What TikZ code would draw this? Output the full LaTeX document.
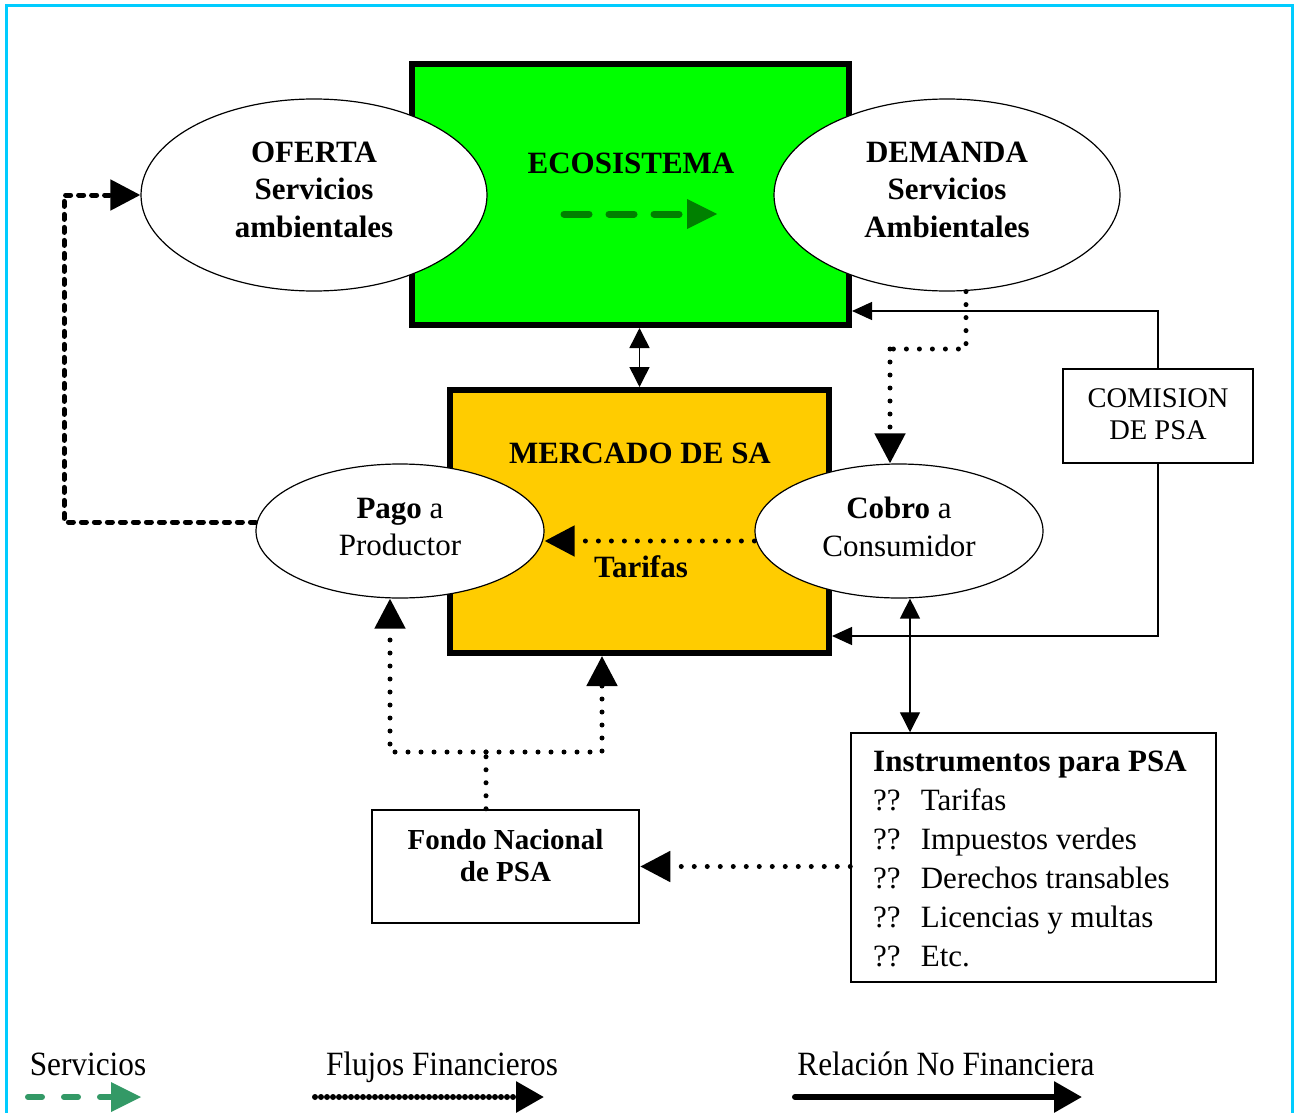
\documentclass[tikz,border=0pt]{standalone}
\usepackage{fontspec}
\setmainfont{Liberation Serif}
\usetikzlibrary{arrows.meta,shapes.geometric}
\definecolor{frame}{RGB}{0,204,255}
\definecolor{ecogreen}{RGB}{0,255,0}
\definecolor{mercy}{RGB}{255,204,0}
\definecolor{darkg}{RGB}{0,128,0}
\definecolor{legg}{RGB}{51,153,102}
\tikzset{
  txt/.style={font=\fontsize{31}{37.5}\selectfont, align=center, inner sep=0pt},
  btxt/.style={txt, font=\fontsize{31}{37.5}\selectfont\bfseries},
  legtxt/.style={inner sep=0pt, anchor=base, font=\fontsize{34}{40}\selectfont, xscale=0.92},
  bigbox/.style={draw, line width=6pt, inner sep=0pt},
  oval/.style={draw, ellipse, fill=white, line width=1.2pt, inner sep=0pt},
  smallbox/.style={draw, line width=2.5pt, fill=white, inner sep=0pt},
  fin/.style={line width=5pt, dash pattern=on 0pt off 13pt, line cap=round},
  finarrow/.style={fin, -{Triangle[length=30pt,width=30pt]}},
  loan/.style={line width=5pt, dash pattern=on 5pt off 8pt, line cap=round, -{Triangle[length=30pt,width=30pt]}},
  rel/.style={line width=1.3pt, -{Triangle[length=20pt,width=18pt]}},
  relboth/.style={line width=1.5pt, {Triangle[length=20pt,width=20pt]}-{Triangle[length=20pt,width=20pt]}},
}
\begin{document}
\begin{tikzpicture}[x=1pt,y=-1pt]
\useasboundingbox (0,0) rectangle (1298,1113);
\fill[white] (0,0) rectangle (1298,1113);
% outer frame
\draw[frame, line width=3pt] (6,1120) -- (6,6) -- (1292,6) -- (1292,1120);

% big boxes
\node[bigbox, fill=ecogreen, minimum width=437pt, minimum height=261pt] (eco) at (630.5,194.5) {};
\node[bigbox, fill=mercy, minimum width=379pt, minimum height=263pt] (mer) at (639.5,521.5) {};
\node[btxt] (ecot) at (631,163) {ECOSISTEMA};
\node[btxt] (mert) at (640,453) {MERCADO DE SA};

% green service arrow in ecosystem
\coordinate (gs) at (564,214);
\coordinate (ge) at (717,214);
\draw[darkg, line width=7pt, dash pattern=on 25pt off 20pt, line cap=round] (gs) -- ([xshift=-30pt]ge);
\fill[darkg] (ge) -- ++(-30,-15) -- ++(0,30) -- cycle;

% ovals
\node[oval, minimum width=346pt, minimum height=192pt] (oferta) at (314,195) {};
\node[oval, minimum width=346pt, minimum height=192pt] (demanda) at (947,195) {};
\node[oval, minimum width=288pt, minimum height=134pt] (pago) at (400,531) {};
\node[oval, minimum width=288pt, minimum height=134pt] (cobro) at (899,531) {};
\node[btxt] (ofertat) at (314,189.5) {OFERTA\\Servicios\\ambientales};
\node[btxt] (demandat) at (947,189.5) {DEMANDA\\Servicios\\Ambientales};
\node[txt] (pagot) at (400,527) {\textbf{Pago} a\\Productor};
\node[txt] (cobrot) at (899,527) {\textbf{Cobro} a\\Consumidor};

\node[btxt] (tarifas) at (641,567) {Tarifas};

% other boxes
\node[smallbox, minimum width=190pt, minimum height=94pt] (com) at (1158,416) {};
\node[txt, font=\fontsize{28.5}{32}\selectfont] (comt) at (1158,414) {COMISION\\DE PSA};
\node[smallbox, line width=1.5pt, minimum width=365pt, minimum height=249pt] (inst) at (1033.5,857.5) {};
\node[txt, align=left, anchor=north west, font=\fontsize{31}{39}\selectfont] (instt) at (873,751) {\textbf{Instrumentos para PSA}\\
??\hspace{0.65em}Tarifas\\
??\hspace{0.65em}Impuestos verdes\\
??\hspace{0.65em}Derechos transables\\
??\hspace{0.65em}Licencias y multas\\
??\hspace{0.65em}Etc.};
\node[smallbox, minimum width=267pt, minimum height=113pt] (fondo) at (505.5,866.5) {};
\node[txt, font=\fontsize{29}{32}\selectfont\bfseries] (fondot) at (505.5,856) {Fondo Nacional\\de PSA};

% connectors
\draw[relboth] (mer.north |- eco.south) -- (mer.north);
\draw[loan] ([yshift=9pt]pago.west) -| (oferta.west -| 64,0) -- (oferta.west);
\coordinate (d1) at (890,349);
\draw[fin] ([xshift=19pt]demanda.south) |- (d1);
\draw[finarrow] (d1) -- ([xshift=-9pt]cobro.north);
\draw[finarrow] ([yshift=-10pt]cobro.west) -- ([yshift=-10pt]pago.east);
\draw[rel] (com.north) |- ([yshift=-116.5pt]eco.east);
\draw[rel] (com.south) |- ([yshift=-114.5pt]mer.east);
\draw[relboth, line width=1.3pt] ([xshift=11pt]cobro.south) -- ([xshift=11pt]cobro.south |- inst.north);
\draw[finarrow] (inst.west |- fondo.east) -- (fondo.east);
\coordinate (j1) at (486,752);
\draw[fin] ([xshift=-19.5pt]fondo.north) -- (j1);
\draw[finarrow] (j1) -| ([xshift=-10pt]pago.south);
\draw[finarrow] (j1) -| ([xshift=-37.5pt]mer.south);

% legend
\node[legtxt] (l1) at (88,1075) {Servicios};
\node[legtxt] (l2) at (442,1075) {Flujos Financieros};
\node[legtxt] (l3) at (946,1075) {Relación No Financiera};
\coordinate (a1s) at (28,1097);
\coordinate (a1e) at (141,1097);
\draw[legg, line width=6pt, dash pattern=on 14pt off 22pt, line cap=round] (a1s) -- ([xshift=-30pt]a1e);
\fill[legg] (a1e) -- ++(-30,-15) -- ++(0,30) -- cycle;
\coordinate (a2s) at (315,1097);
\coordinate (a2e) at (544,1097);
\draw[line width=6pt, dash pattern=on 0pt off 6pt, line cap=round, -{Triangle[length=28pt,width=30pt]}] (a2s) -- (a2e);
\coordinate (a3s) at (795,1097);
\coordinate (a3e) at (1082,1097);
\draw[line width=6pt, line cap=round, -{Triangle[length=28pt,width=30pt]}] (a3s) -- (a3e);
\end{tikzpicture}
\end{document}
